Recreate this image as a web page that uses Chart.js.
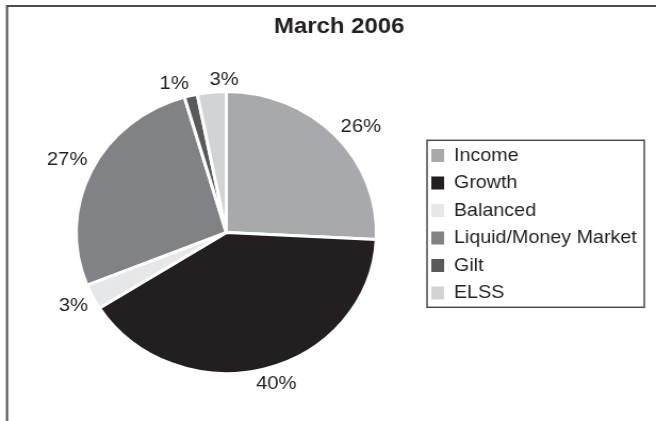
<!DOCTYPE html>
<html>
<head>
<meta charset="utf-8">
<script src="https://cdn.jsdelivr.net/npm/chart.js@4.4.0/dist/chart.umd.min.js"></script>
<style>
	html, body { margin: 0; padding: 0; background: #fff; overflow: hidden; }
	/* the printed original is a little wider than tall, so stretch the drawing */
	#wrap { width: 616px; height: 421px; transform: scaleX(1.0649); transform-origin: 0 0; }
</style>
</head>
<body>
<div id="wrap"><canvas id="chart1" width="616" height="421"></canvas></div>
<script>
var chartTitle = "March 2006";
var categories = ["Income", "Growth", "Balanced", "Liquid/Money Market", "Gilt", "ELSS"];
var shares = [25.8, 40.2, 2.9, 26.6, 1.4, 3.1];
var sliceColors = ["#a7a9ac", "#231f20", "#e6e7e8", "#808285", "#58595b", "#d1d3d4"];

// small angle nudges (degrees) so the labels sit where the original put them
var labelNudge = [3.5, -2.5, 0, 0, -4.5, 4.8];
var fontFamily = "'Liberation Sans', Arial, sans-serif";
var inkColor = "#231f20";

//outer frame (only top and left edge are visible in the original)
var frameLines = {
	id: 'frameLines',
	beforeDraw: function(chart) {
		var ctx = chart.ctx;
		ctx.save();
		ctx.strokeStyle = '#4d4d4d';
		ctx.lineWidth = 2;
		ctx.beginPath();
		ctx.moveTo(6.6, chart.height);
		ctx.lineTo(6.6, 6);
		ctx.lineTo(chart.width, 6);
		ctx.stroke();
		ctx.restore();
	}
};

//move the legend down a bit and box it in
var legendBox = {
	id: 'legendBox',
	afterLayout: function(chart) {
		chart.legend.top += 11.8;
		chart.legend.bottom += 11.8;
	},
	afterDraw: function(chart) {
		var boxes = chart.legend.legendHitBoxes;
		if (!boxes || !boxes.length) return;
		var first = boxes[0], last = boxes[boxes.length - 1];
		var x0 = first.left - 4, y0 = first.top - 6;
		var x1 = chart.legend.right - 3, y1 = last.top + last.height + 5;
		var ctx = chart.ctx;
		ctx.save();
		ctx.strokeStyle = '#4d4d4d';
		ctx.lineWidth = 1.5;
		ctx.strokeRect(x0, y0, x1 - x0, y1 - y0);
		ctx.restore();
	}
};

//percent labels just outside each slice
var pctLabels = {
	id: 'pctLabels',
	afterDatasetsDraw: function(chart) {
		var ctx = chart.ctx;
		var arcs = chart.getDatasetMeta(0).data;
		ctx.save();
		ctx.font = '19px ' + fontFamily;
		ctx.fillStyle = inkColor;
		ctx.textAlign = 'center';
		ctx.textBaseline = 'middle';
		arcs.forEach(function(arc, i) {
			var p = arc.getProps(['x', 'y', 'startAngle', 'endAngle', 'outerRadius'], true);
			var a = (p.startAngle + p.endAngle) / 2 + labelNudge[i] * Math.PI / 180;
			var text = Math.round(shares[i]) + '%';
			var hw = ctx.measureText(text).width / 2, hh = 7;
			var dx = Math.cos(a), dy = Math.sin(a);
			var d = p.outerRadius + 5 + Math.abs(dx) * hw + Math.abs(dy) * hh;
			ctx.fillText(text, p.x + dx * d, p.y + dy * d);
		});
		ctx.restore();
	}
};

var canvas = document.getElementById('chart1').getContext('2d');
new Chart(canvas, {
	type: 'pie',
	data: {
		labels: categories,
		datasets: [{
			data: shares,
			backgroundColor: sliceColors,
			borderColor: '#ffffff',
			borderWidth: 3,
			radius: 141,
			hoverOffset: 0
		}]
	},
	options: {
		responsive: false,
		animation: false,
		events: [],
		layout: { padding: { left: 29, right: 8, top: 4, bottom: 0 } },
		plugins: {
			title: {
				display: true,
				text: chartTitle,
				color: inkColor,
				font: { family: fontFamily, size: 22.5, weight: 'bold' },
				padding: { top: 9.5, bottom: 3.5 }
			},
			legend: {
				position: 'right',
				labels: {
					boxWidth: 12,
					boxHeight: 13,
					padding: 9,
					color: inkColor,
					font: { family: fontFamily, size: 18.5 },
					generateLabels: function(chart) {
						var items = Chart.overrides.pie.plugins.legend.labels.generateLabels(chart);
						items.forEach(function(it) { it.lineWidth = 0; });
						return items;
					}
				}
			},
			tooltip: { enabled: false }
		}
	},
	plugins: [frameLines, legendBox, pctLabels]
});
</script>
</body>
</html>
